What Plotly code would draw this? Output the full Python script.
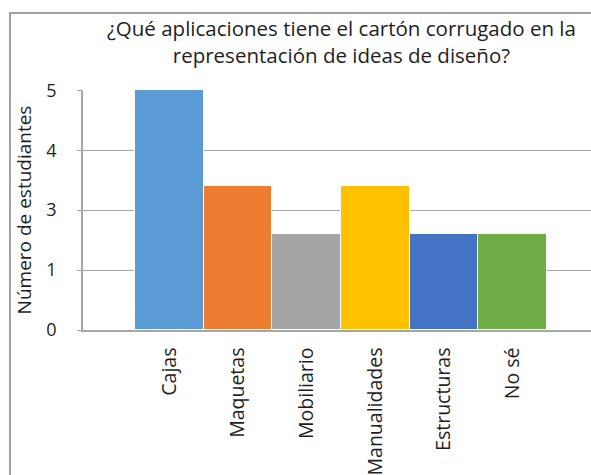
import plotly.graph_objects as go

# Categories and bar heights (in axis-position units; the axis shows labels 0,1,3,4,5)
categories = ["Cajas", "Maquetas", "Mobiliario", "Manualidades", "Estructuras", "No sé"]
values = [4.0, 2.4, 1.6, 2.4, 1.6, 1.6]
colors = ["#5B9BD5", "#ED7D31", "#A5A5A5", "#FFC000", "#4472C4", "#70AD47"]
tick_positions = [0, 1, 2, 3, 4]
tick_labels = ["0", "1", "3", "4", "5"]

FONT = "Open Sans"
TEXT = "#1E1E1E"
GRID = "#A6A6A6"

fig = go.Figure(
    go.Bar(
        x=categories,
        y=values,
        marker=dict(color=colors, line=dict(color="white", width=1)),
        width=1.0,
    )
)

fig.update_layout(
    width=591,
    height=475,
    margin=dict(l=83, r=0, t=90, b=145),
    paper_bgcolor="white",
    plot_bgcolor="white",
    showlegend=False,
    bargap=0,
    font=dict(family=FONT, color=TEXT),
)

# Two-line chart title
fig.add_annotation(
    text="¿Qué aplicaciones tiene el cartón corrugado en la<br>representación de ideas de diseño?",
    xref="paper", yref="paper",
    x=0.508, y=1.202,
    xanchor="center", yanchor="middle",
    showarrow=False,
    align="center",
    font=dict(family=FONT, size=20.5, color=TEXT),
)

fig.update_xaxes(
    type="category",
    range=[-1.256, 6.14],
    showgrid=False,
    showline=True,
    linecolor=GRID,
    linewidth=1.5,
    ticks="",
    tickangle=-90,
    tickfont=dict(family=FONT, size=19.5, color=TEXT),
    ticklabelstandoff=8,
)

fig.update_yaxes(
    range=[0, 4.005],
    tickvals=tick_positions,
    ticktext=tick_labels,
    showgrid=True,
    gridcolor=GRID,
    gridwidth=1.2,
    showline=True,
    linecolor=GRID,
    linewidth=1.5,
    ticks="outside",
    ticklen=4,
    tickcolor=GRID,
    tickfont=dict(family=FONT, size=18, color=TEXT),
    ticklabelstandoff=17,
    zeroline=False,
    title=dict(text="Número de estudiantes", font=dict(family=FONT, size=19, color=TEXT), standoff=10),
)

# Chart frame
fig.add_shape(
    type="rect",
    xref="paper", yref="paper",
    x0=-0.1437, x1=1.02, y0=-0.65, y1=1.3208,
    line=dict(color="#A0A0A0", width=2),
    fillcolor="rgba(0,0,0,0)",
    layer="below",
)

fig.write_html("out.html")
